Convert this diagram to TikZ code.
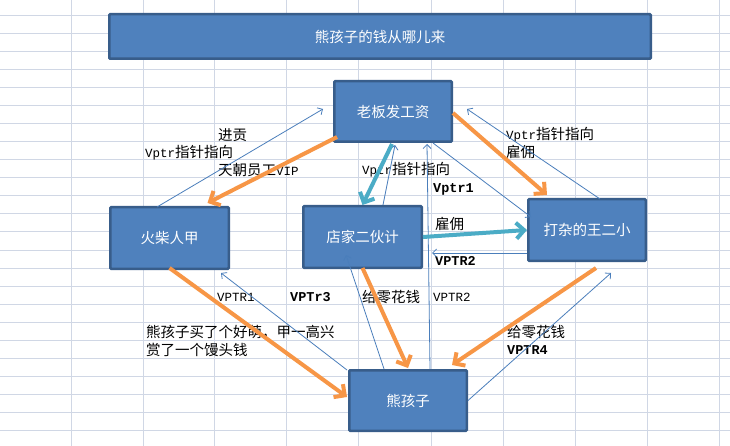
\documentclass[tikz,border=0pt]{standalone}
\usepackage{fontspec}
\setmainfont{Liberation Mono}
\newfontfamily\cjk{Noto Sans CJK SC}
\usetikzlibrary{arrows.meta,calc}
\definecolor{boxfill}{HTML}{4F81BD}
\definecolor{boxline}{HTML}{385D8A}
\definecolor{gridc}{HTML}{D0D7E5}
\definecolor{orangec}{HTML}{F79646}
\definecolor{tealc}{HTML}{4BACC6}
\definecolor{thinc}{HTML}{4A7EBB}
\newcommand\zh[1]{{\cjk\fontsize{14.5}{17}\selectfont #1}}
\begin{document}
\begin{tikzpicture}[x=1pt,y=-1pt,
  box/.style={draw=boxline, fill=boxfill, line width=2.5pt, rounded corners=1pt, text=white, font=\cjk\fontsize{14.5}{17}\selectfont, inner sep=0pt},
  lab/.style={anchor=west, inner sep=0pt, font=\fontsize{12.5}{15}\selectfont},
  blab/.style={anchor=west, inner sep=0pt, font=\fontsize{13.5}{15}\selectfont\bfseries},
  bigarrow/.style={line width=4pt, -{Straight Barb[length=8pt,width=16pt]}},
  orangearrow/.style={bigarrow, draw=orangec},
  tealarrow/.style={bigarrow, draw=tealc},
  thinarrow/.style={draw=thinc, line width=0.8pt, -{Straight Barb[length=4pt,width=8pt]}},
]
\useasboundingbox (0,0) rectangle (730,446);
\fill[white] (0,0) rectangle (730,446);
\foreach \x in {71,143,214,286,358,431,503,575,647,719} \draw[gridc, line width=1pt] (\x,0) -- (\x,446);
\foreach \k in {0,...,23} \draw[gridc, line width=1pt] (0,16+18*\k) -- (730,16+18*\k);

% boxes
\node[box, minimum width=541.5pt, minimum height=44.5pt] (title) at (380,36.5) {熊孩子的钱从哪儿来};
\node[box, minimum width=117.5pt, minimum height=60.5pt] (boss) at (393,111.5) {老板发工资};
\node[box, minimum width=118.5pt, minimum height=61.5pt] (match) at (169.5,238) {火柴人甲};
\node[box, minimum width=118.5pt, minimum height=61.5pt] (clerk) at (362.5,237) {店家二伙计};
\node[box, minimum width=117.5pt, minimum height=61.5pt] (odd) at (587,230) {打杂的王二小};
\node[box, minimum width=117.5pt, minimum height=60.5pt] (kid) at (408,400.5) {熊孩子};

% labels
\node[lab] (l1) at (218,135) {\zh{进贡}};
\node[lab] (l2) at (145,153) {Vptr\zh{指针指向}};
\node[lab] (l3) at (218,170) {\zh{天朝员工}VIP};
\node[lab] (l4) at (362,170) {Vptr\zh{指针指向}};
\node[blab] (l5) at (433,189) {Vptr1};
\node[lab] (l6) at (435,224) {\zh{雇佣}};
\node[blab] (l7) at (435,261) {VPTR2};
\node[lab] (l8) at (506,135) {Vptr\zh{指针指向}};
\node[lab] (l9) at (506,152) {\zh{雇佣}};
\node[lab] (l10) at (217,297) {VPTR1};
\node[blab] (l11) at (290,297) {VPTr3};
\node[lab] (l12) at (362,297) {\zh{给零花钱}};
\node[lab] (l13) at (433,297) {VPTR2};
\node[lab] (l14) at (146,332) {\zh{熊孩子买了个好萌，甲一高兴}};
\node[lab] (l15) at (146,350) {\zh{赏了一个馒头钱}};
\node[lab] (l16) at (507,332) {\zh{给零花钱}};
\node[blab] (l17) at (507,350) {VPTR4};

% free ends
\coordinate (aE) at ($(boss.west)+(-10,-2.5)$);
\coordinate (bE) at ($(match.south east)+(-9,3)$);
\coordinate (cE) at ($(clerk.south)+(-16.5,-14)$);
\coordinate (fE) at ($(odd.west)+(4,-13)$);
\coordinate (gE) at ($(boss.east)+(14,-2.5)$);
\coordinate (hE) at ($(clerk.east)+(9,16)$);
\coordinate (iE) at ($(odd.south)+(24,11)$);
\coordinate (o5S) at ($(odd.south)+(9,6)$);

% thin connectors
\draw[thinarrow] ($(match.north)+(-12.5,1)$) -- (aE);
\draw[thinarrow] ($(kid.north west)+(-1,1)$) -- (bE);
\draw[thinarrow] ($(kid.north)+(-24,0)$) -- (cE);
\draw[thinarrow] ($(kid.north)+(22,0)$) -- ($(boss.south)+(34,1)$);
\draw[thinarrow] ($(clerk.north)+(20.5,0)$) -- ($(boss.south)+(2,2)$);
\draw[thinarrow] ($(boss.south)+(40,0)$) -- (fE);
\draw[thinarrow] ($(odd.north)+(13,1)$) -- (gE);
\draw[thinarrow] ($(odd.south west)+(0,-9)$) -- (hE);
\draw[thinarrow] (kid.east) -- (iE);

% thick arrows
\draw[orangearrow] ($(boss.south west)+(4,-6)$) -- ($(match.north)+(38,-3)$);
\draw[orangearrow] ($(boss.east)+(0,1.5)$) -- ($(odd.north west)+(20,-3)$);
\draw[orangearrow] ($(match.south)+(0,-2)$) -- ($(kid.west)+(-1,-3.5)$);
\draw[orangearrow] ($(clerk.south)+(0,-1)$) -- ($(kid.north)+(0,-1)$);
\draw[orangearrow] (o5S) -- ($(kid.north east)+(-16,-4)$);
\draw[tealarrow] ($(boss.south)+(-1,1)$) -- (clerk.north);
\draw[tealarrow] (clerk.east) -- (odd.west);
\end{tikzpicture}
\end{document}
